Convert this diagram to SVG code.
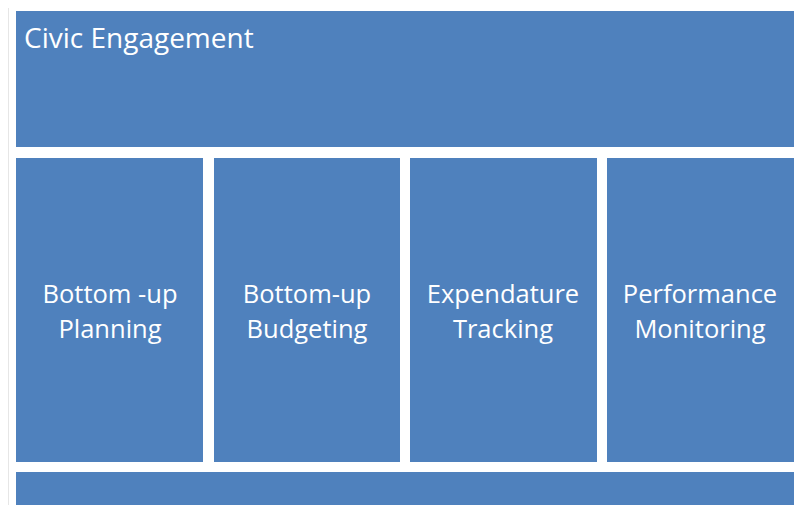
<svg xmlns="http://www.w3.org/2000/svg" width="803" height="505" viewBox="0 0 803 505">
<style>
.box{fill:#4F81BD;}
.t{font-family:"Open Sans","Liberation Sans",sans-serif;font-size:25.5px;fill:#FFFFFF;}
.h{font-size:28px;}
.c{text-anchor:middle;}
</style>
<rect width="803" height="505" fill="#FFFFFF"/>
<line x1="8.5" y1="8" x2="8.5" y2="505" stroke="#E6E6E6" stroke-width="1"/>
<g id="civic-engagement">
<rect class="box" x="16" y="11" width="778" height="136"/>
<text class="t h" x="24" y="48">Civic Engagement</text>
</g>
<g id="bottom-up-planning">
<rect class="box" x="16" y="158" width="187" height="304"/>
<text class="t c" x="110" y="303">Bottom -up</text>
<text class="t c" x="110" y="338">Planning</text>
</g>
<g id="bottom-up-budgeting">
<rect class="box" x="214" y="158" width="186" height="304"/>
<text class="t c" x="307" y="303">Bottom-up</text>
<text class="t c" x="307" y="338">Budgeting</text>
</g>
<g id="expendature-tracking">
<rect class="box" x="410" y="158" width="187" height="304"/>
<text class="t c" x="503" y="303">Expendature</text>
<text class="t c" x="503" y="338">Tracking</text>
</g>
<g id="performance-monitoring">
<rect class="box" x="607" y="158" width="187" height="304"/>
<text class="t c" x="700" y="303">Performance</text>
<text class="t c" x="700" y="338">Monitoring</text>
</g>
<g id="bottom-bar">
<rect class="box" x="16" y="472" width="778" height="40"/>
</g>
<g id="connectors"/>
</svg>
